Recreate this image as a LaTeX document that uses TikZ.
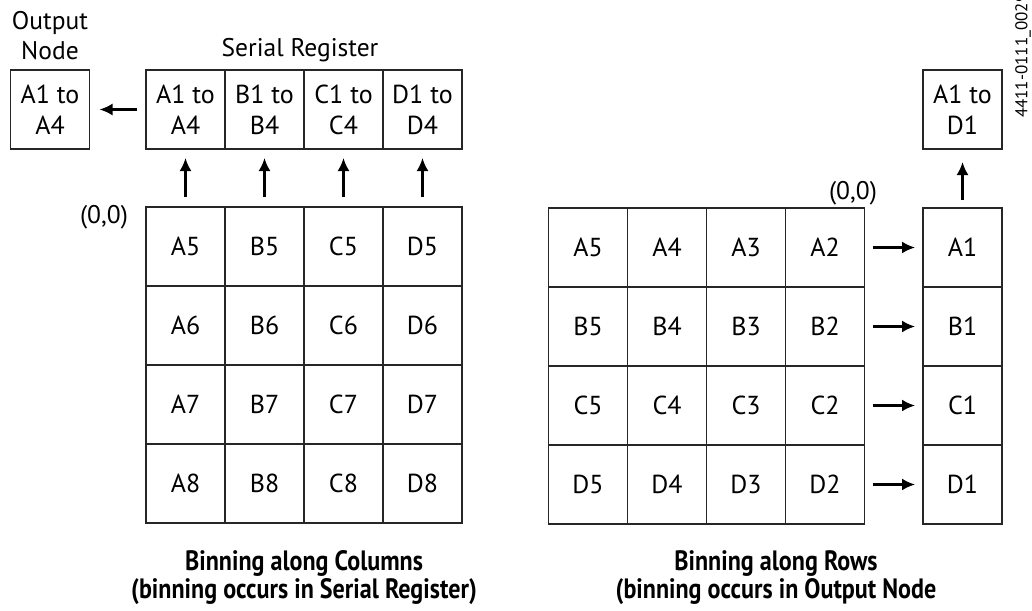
\documentclass[tikz,border=0pt]{standalone}
\usepackage{fontspec}
\setmainfont{PT Sans}
\newfontfamily\titlefont[FakeStretch=0.86]{PT Sans}
\usetikzlibrary{positioning,arrows.meta}

\begin{document}
\begin{tikzpicture}[
        x=1pt, y=1pt,
        node distance=0pt,
        cell/.style={
            draw,
            line width=1.1pt,
            draw=black!85,
            minimum width=79pt,
            minimum height=79pt,
            inner sep=0pt,
            outer sep=0pt,
            align=center,
            font=\fontsize{26}{31}\selectfont
        },
        lbl/.style={align=center, font=\fontsize{25.5}{30}\selectfont},
        title/.style={align=center, font=\titlefont\bfseries\fontsize{28}{28}\selectfont},
        arrow/.style={-{Latex[length=13pt,width=12pt]}, line width=2.2pt}
    ]
    \useasboundingbox (0,0) rectangle (1032,-610);

    % Left: binning along columns
    \node[cell] (a5) at (185.5,-246.5) {A5};
    \node[cell] (b5) [right=of a5] {B5};
    \node[cell] (c5) [right=of b5] {C5};
    \node[cell] (d5) [right=of c5] {D5};

    \node[cell] (a6) [below=of a5] {A6};
    \node[cell] (b6) [right=of a6] {B6};
    \node[cell] (c6) [right=of b6] {C6};
    \node[cell] (d6) [right=of c6] {D6};

    \node[cell] (a7) [below=of a6] {A7};
    \node[cell] (b7) [right=of a7] {B7};
    \node[cell] (c7) [right=of b7] {C7};
    \node[cell] (d7) [right=of c7] {D7};

    \node[cell] (a8) [below=of a7] {A8};
    \node[cell] (b8) [right=of a8] {B8};
    \node[cell] (c8) [right=of b8] {C8};
    \node[cell] (d8) [right=of c8] {D8};

    % Serial register
    \node[cell] (sra) at (185.5,-109.5) {A1 to\\A4};
    \node[cell] (srb) [right=of sra] {B1 to\\B4};
    \node[cell] (src) [right=of srb] {C1 to\\C4};
    \node[cell] (srd) [right=of src] {D1 to\\D4};

    \node[cell] (outl) at (50,-109.5) {A1 to\\A4};

    \node[lbl] (outlbl) [above=7pt of outl] {Output\\Node};
    \node[lbl] (srlbl) at (300,-50) {Serial Register};
    \node[lbl] (origl) at (104,-217) {(0,0)};

    % Right: binning along rows
    \node[cell] (ra5) at (588,-247.5) {A5};
    \node[cell] (ra4) [right=of ra5] {A4};
    \node[cell] (ra3) [right=of ra4] {A3};
    \node[cell] (ra2) [right=of ra3] {A2};

    \node[cell] (rb5) [below=of ra5] {B5};
    \node[cell] (rb4) [right=of rb5] {B4};
    \node[cell] (rb3) [right=of rb4] {B3};
    \node[cell] (rb2) [right=of rb3] {B2};

    \node[cell] (rc5) [below=of rb5] {C5};
    \node[cell] (rc4) [right=of rc5] {C4};
    \node[cell] (rc3) [right=of rc4] {C3};
    \node[cell] (rc2) [right=of rc3] {C2};

    \node[cell] (rd5) [below=of rc5] {D5};
    \node[cell] (rd4) [right=of rd5] {D4};
    \node[cell] (rd3) [right=of rd4] {D3};
    \node[cell] (rd2) [right=of rd3] {D2};

    \node[cell] (ra1) at (962.5,-247.5) {A1};
    \node[cell] (rb1) [below=of ra1] {B1};
    \node[cell] (rc1) [below=of rb1] {C1};
    \node[cell] (rd1) [below=of rc1] {D1};

    \node[cell] (outr) at (962.5,-109.5) {A1 to\\D1};

    \node[lbl] (origr) at (853,-193) {(0,0)};
    \node[font=\fontsize{17}{17}\selectfont, rotate=90, anchor=west, inner sep=0pt] (figid) at (1023,-118) {4411-0111\_0029};

    % Titles
    \node[title] (tleft) at (304,-578) {Binning along Columns\\(binning occurs in Serial Register)};
    \node[title] (tright) at (776,-578) {Binning along Rows\\(binning occurs in Output Node};

    % Arrows
    \draw[arrow, shorten <=10pt, shorten >=9pt] (a5.north) -- (sra.south);
    \draw[arrow, shorten <=10pt, shorten >=9pt] (b5.north) -- (srb.south);
    \draw[arrow, shorten <=10pt, shorten >=9pt] (c5.north) -- (src.south);
    \draw[arrow, shorten <=10pt, shorten >=9pt] (d5.north) -- (srd.south);
    \draw[arrow, shorten <=9pt, shorten >=10pt] (sra.west) -- (outl.east);

    \draw[arrow, shorten <=8pt, shorten >=8pt] (ra2.east) -- (ra1.west);
    \draw[arrow, shorten <=8pt, shorten >=8pt] (rb2.east) -- (rb1.west);
    \draw[arrow, shorten <=8pt, shorten >=8pt] (rc2.east) -- (rc1.west);
    \draw[arrow, shorten <=8pt, shorten >=8pt] (rd2.east) -- (rd1.west);
    \draw[arrow, shorten <=8pt, shorten >=13pt] (ra1.north) -- (outr.south);

\end{tikzpicture}
\end{document}
